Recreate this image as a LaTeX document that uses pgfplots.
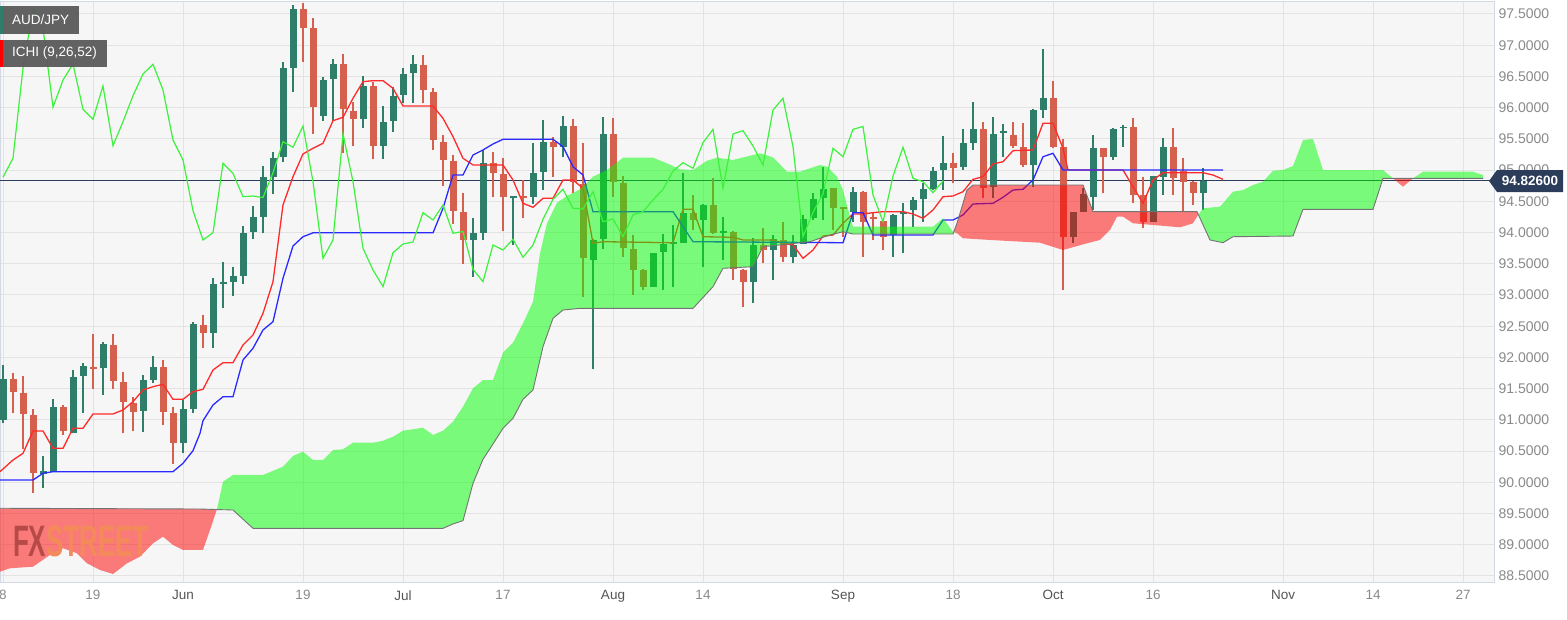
\documentclass[border=0pt]{standalone}
\usepackage{pgfplots}
\pgfplotsset{compat=1.18}
\usepackage{fontspec}
\setmainfont{Liberation Sans}
\definecolor{cgreen}{HTML}{2F7E6A}
\definecolor{cred}{HTML}{D6604E}
\definecolor{tenkan}{HTML}{FF2A2A}
\definecolor{kijun}{HTML}{2A2AFF}
\definecolor{chikou}{HTML}{3DF23D}
\definecolor{cloudG}{HTML}{00FF00}
\definecolor{cloudR}{HTML}{FF0000}
\definecolor{bgc}{HTML}{F6F6F6}
\definecolor{gridc}{HTML}{E3E3E3}
\definecolor{navy}{HTML}{2B3D5B}
\definecolor{framec}{HTML}{D3D9E4}
\definecolor{lbl}{HTML}{8A8A8A}
\definecolor{lbldark}{HTML}{555555}
\definecolor{boxg}{HTML}{5B5B5B}
\definecolor{fxc}{HTML}{B54A46}
\definecolor{streetc}{HTML}{F48A5A}

\begin{document}
\begin{tikzpicture}
\useasboundingbox[fill=white] (0,0) rectangle (1567pt,-619pt);
\begin{axis}[
  at={(0pt,-1pt)}, anchor=north west,
  scale only axis, width=1494pt, height=581pt,
  xmin=0, xmax=1494, ymin=88.403, ymax=97.708,
  clip=false,
  unbounded coords=jump,
  axis background/.style={fill=bgc},
  axis line style={draw=framec, line width=1pt},
  grid=major, major grid style={draw=gridc, line width=1pt},
  major tick length=0pt,
  ytick={88.5,89,89.5,90,90.5,91,91.5,92,92.5,93,93.5,94,94.5,95,95.5,96,96.5,97,97.5},
  yticklabels={88.5000,89.0000,89.5000,90.0000,90.5000,91.0000,91.5000,92.0000,92.5000,93.0000,93.5000,94.0000,94.5000,95.0000,95.5000,96.0000,96.5000,97.0000,97.5000},
  yticklabel pos=right,
  yticklabel style={font=\fontsize{14}{16}\selectfont, text=lbl, xshift=1pt},
  xtick={3,93,183,303,403,503,613,703,843,953,1053,1153,1283,1373,1463},
  xticklabels={8,19,\textcolor{lbldark}{Jun},19,\textcolor{lbldark}{Jul},17,\textcolor{lbldark}{Aug},14,\textcolor{lbldark}{Sep},18,\textcolor{lbldark}{Oct},16,\textcolor{lbldark}{Nov},14,27},
  xticklabel style={font=\fontsize{13.5}{16}\selectfont, text=lbl, yshift=-5pt},
]
% current price line
\addplot[navy, line width=1pt, forget plot] coordinates {(0,94.826) (1494,94.826)};

% green wicks (low, high)
\addplot[cgreen, line width=1.2pt, forget plot] coordinates {
(3,90.945) (3,91.878) (3,nan)
(43,89.904) (43,90.421) (43,nan)
(53,90.160) (53,91.329) (53,nan)
(73,90.785) (73,91.798) (73,nan)
(83,91.105) (83,91.915) (83,nan)
(103,91.398) (103,92.252) (103,nan)
(143,90.801) (143,91.718) (143,nan)
(153,91.586) (153,92.023) (153,nan)
(183,90.474) (183,91.318) (183,nan)
(193,91.105) (193,92.572) (193,nan)
(213,92.146) (213,93.267) (213,nan)
(223,92.787) (223,93.523) (223,nan)
(233,92.988) (233,93.453) (233,nan)
(243,93.176) (243,94.105) (243,nan)
(253,93.892) (253,94.425) (253,nan)
(263,93.988) (263,95.066) (263,nan)
(273,94.612) (273,95.295) (273,nan)
(283,95.125) (283,96.736) (283,nan)
(293,96.255) (293,97.644) (293,nan)
(323,95.791) (323,96.486) (323,nan)
(333,95.791) (333,96.774) (333,nan)
(363,95.669) (363,96.507) (363,nan)
(383,95.178) (383,96.026) (383,nan)
(393,95.615) (393,96.326) (393,nan)
(403,96.070) (403,96.630) (403,nan)
(413,96.070) (413,96.843) (413,nan)
(473,93.293) (473,94.228) (473,nan)
(483,93.881) (483,95.322) (483,nan)
(513,93.800) (513,94.585) (513,nan)
(533,94.457) (533,95.439) (533,nan)
(543,94.681) (543,95.802) (543,nan)
(563,95.205) (563,95.866) (563,nan)
(593,91.810) (593,93.890) (593,nan)
(603,93.731) (603,95.845) (603,nan)
(653,93.120) (653,93.680) (653,nan)
(663,93.080) (663,93.977) (663,nan)
(673,93.133) (673,94.121) (673,nan)
(683,93.830) (683,94.949) (683,nan)
(703,93.453) (703,94.450) (703,nan)
(723,93.560) (723,94.254) (723,nan)
(753,92.867) (753,93.908) (753,nan)
(773,93.240) (773,93.960) (773,nan)
(793,93.507) (793,93.960) (793,nan)
(803,93.810) (803,94.281) (803,nan)
(813,94.201) (813,94.628) (813,nan)
(823,94.201) (823,95.045) (823,nan)
(853,94.173) (853,94.724) (853,nan)
(893,93.613) (893,94.290) (893,nan)
(903,93.667) (903,94.468) (903,nan)
(913,94.093) (913,94.574) (913,nan)
(923,94.173) (923,94.788) (923,nan)
(933,94.681) (933,95.054) (933,nan)
(943,94.681) (943,95.546) (943,nan)
(963,95.001) (963,95.653) (963,nan)
(973,95.322) (973,96.095) (973,nan)
(993,94.548) (993,95.845) (993,nan)
(1003,95.214) (1003,95.738) (1003,nan)
(1033,94.734) (1033,95.974) (1033,nan)
(1043,95.829) (1043,96.934) (1043,nan)
(1073,93.828) (1073,94.330) (1073,nan)
(1083,94.330) (1083,94.708) (1083,nan)
(1093,94.361) (1093,95.562) (1093,nan)
(1113,95.162) (1113,95.669) (1113,nan)
(1123,95.375) (1123,95.722) (1123,nan)
(1153,94.170) (1153,94.910) (1153,nan)
(1163,94.601) (1163,95.509) (1163,nan)
(1203,94.361) (1203,95.029)};

% red wicks (low, high)
\addplot[cred, line width=1.2pt, forget plot] coordinates {
(13,91.115) (13,91.755) (13,nan)
(23,90.529) (23,91.707) (23,nan)
(33,89.833) (33,91.169) (33,nan)
(63,90.758) (63,91.238) (63,nan)
(93,91.494) (93,92.370) (93,nan)
(113,91.489) (113,92.370) (113,nan)
(123,90.785) (123,91.771) (123,nan)
(133,90.822) (133,91.371) (133,nan)
(163,90.918) (163,91.959) (163,nan)
(173,90.293) (173,91.201) (173,nan)
(203,92.146) (203,92.679) (203,nan)
(303,96.736) (303,97.681) (303,nan)
(313,95.578) (313,97.431) (313,nan)
(343,95.279) (343,96.859) (343,nan)
(353,95.391) (353,96.095) (353,nan)
(373,95.178) (373,96.416) (373,nan)
(423,96.070) (423,96.843) (423,nan)
(433,95.322) (433,96.320) (433,nan)
(443,94.750) (443,95.562) (443,nan)
(453,94.137) (453,95.242) (453,nan)
(463,93.496) (463,94.628) (463,nan)
(493,94.564) (493,95.295) (493,nan)
(503,94.029) (503,95.189) (503,nan)
(523,94.228) (523,94.841) (523,nan)
(553,94.894) (553,95.535) (553,nan)
(573,94.628) (573,95.813) (573,nan)
(583,92.972) (583,95.439) (583,nan)
(613,94.574) (613,95.834) (613,nan)
(623,93.613) (623,94.905) (623,nan)
(633,92.999) (633,93.960) (633,nan)
(643,93.080) (643,93.410) (643,nan)
(693,94.041) (693,94.601) (693,nan)
(713,93.980) (713,94.868) (713,nan)
(733,93.240) (733,94.020) (733,nan)
(743,92.812) (743,93.410) (743,nan)
(763,93.507) (763,94.068) (763,nan)
(783,93.533) (783,94.173) (783,nan)
(833,94.041) (833,94.720) (833,nan)
(843,93.933) (843,94.414) (843,nan)
(863,93.613) (863,94.660) (863,nan)
(873,93.881) (873,94.308) (873,nan)
(883,93.720) (883,94.190) (883,nan)
(953,94.788) (953,95.269) (953,nan)
(983,94.548) (983,95.775) (983,nan)
(1013,95.349) (1013,95.775) (1013,nan)
(1023,95.054) (1023,95.759) (1023,nan)
(1053,95.349) (1053,96.432) (1053,nan)
(1063,93.080) (1063,95.493) (1063,nan)
(1103,94.628) (1103,95.355) (1103,nan)
(1133,94.468) (1133,95.829) (1133,nan)
(1143,94.068) (1143,94.894) (1143,nan)
(1173,94.601) (1173,95.669) (1173,nan)
(1183,94.334) (1183,95.189) (1183,nan)
(1193,94.441) (1193,94.820)};

% green bodies (open, close)
\addplot[cgreen, line width=7pt, forget plot] coordinates {
(3,90.998) (3,91.650) (3,nan)
(43,90.133) (43,90.181) (43,nan)
(53,90.170) (53,91.211) (53,nan)
(73,90.794) (73,91.691) (73,nan)
(83,91.707) (83,91.867) (83,nan)
(103,91.826) (103,92.215) (103,nan)
(143,91.142) (143,91.638) (143,nan)
(153,91.638) (153,91.842) (153,nan)
(183,90.634) (183,91.169) (183,nan)
(193,91.169) (193,92.535) (193,nan)
(213,92.386) (213,93.171) (213,nan)
(223,93.171) (223,93.203) (223,nan)
(233,93.213) (233,93.304) (233,nan)
(243,93.304) (243,93.997) (243,nan)
(253,94.004) (253,94.254) (253,nan)
(263,94.254) (263,94.885) (263,nan)
(273,94.894) (273,95.189) (273,nan)
(283,95.205) (283,96.630) (283,nan)
(293,96.640) (293,97.575) (293,nan)
(323,95.866) (323,96.443) (323,nan)
(333,96.454) (333,96.699) (333,nan)
(363,95.813) (363,96.347) (363,nan)
(383,95.391) (383,95.775) (383,nan)
(393,95.791) (393,96.191) (393,nan)
(403,96.203) (403,96.539) (403,nan)
(413,96.550) (413,96.694) (413,nan)
(473,93.881) (473,93.997) (473,nan)
(483,93.997) (483,95.109) (483,nan)
(513,94.561) (513,94.585) (513,nan)
(533,94.574) (533,94.958) (533,nan)
(543,94.974) (543,95.455) (543,nan)
(563,95.365) (563,95.706) (563,nan)
(593,93.560) (593,93.881) (593,nan)
(603,93.892) (603,95.578) (603,nan)
(653,93.133) (653,93.677) (653,nan)
(663,93.693) (663,93.816) (663,nan)
(673,93.816) (673,93.848) (673,nan)
(683,93.837) (683,94.318) (683,nan)
(703,94.201) (703,94.441) (703,nan)
(723,93.988) (723,94.017) (723,nan)
(753,93.213) (753,93.800) (753,nan)
(773,93.720) (773,93.892) (773,nan)
(793,93.613) (793,93.800) (793,nan)
(803,93.816) (803,94.212) (803,nan)
(813,94.228) (813,94.532) (813,nan)
(823,94.548) (823,94.692) (823,nan)
(853,94.334) (853,94.654) (853,nan)
(893,93.960) (893,94.281) (893,nan)
(903,94.297) (903,94.334) (903,nan)
(913,94.361) (913,94.521) (913,nan)
(923,94.532) (923,94.692) (923,nan)
(933,94.692) (933,94.985) (933,nan)
(943,95.001) (943,95.118) (943,nan)
(963,95.045) (963,95.439) (963,nan)
(973,95.439) (973,95.653) (973,nan)
(993,94.734) (993,95.578) (993,nan)
(1003,95.589) (1003,95.631) (1003,nan)
(1033,95.082) (1033,95.962) (1033,nan)
(1043,95.962) (1043,96.150) (1043,nan)
(1073,93.933) (1073,94.324) (1073,nan)
(1083,94.334) (1083,94.617) (1083,nan)
(1093,94.564) (1093,95.349) (1093,nan)
(1113,95.214) (1113,95.653) (1113,nan)
(1123,95.674) (1123,95.698) (1123,nan)
(1153,94.173) (1153,94.905) (1153,nan)
(1163,94.894) (1163,95.365) (1163,nan)
(1203,94.638) (1203,94.826)};

% red bodies (open, close)
\addplot[cred, line width=7pt, forget plot] coordinates {
(13,91.650) (13,91.441) (13,nan)
(23,91.435) (23,91.089) (23,nan)
(33,91.078) (33,90.154) (33,nan)
(63,91.201) (63,90.822) (63,nan)
(93,91.839) (93,91.815) (93,nan)
(113,92.199) (113,91.622) (113,nan)
(123,91.606) (123,91.291) (123,nan)
(133,91.275) (133,91.131) (133,nan)
(163,91.842) (163,91.131) (163,nan)
(173,91.115) (173,90.634) (173,nan)
(203,92.519) (203,92.386) (203,nan)
(303,97.575) (303,97.271) (303,nan)
(313,97.271) (313,96.006) (313,nan)
(343,96.694) (343,95.974) (343,nan)
(353,95.951) (353,95.813) (353,nan)
(373,96.347) (373,95.391) (373,nan)
(423,96.683) (423,96.283) (423,nan)
(433,96.255) (433,95.482) (433,nan)
(443,95.455) (443,95.162) (443,nan)
(453,95.150) (453,94.350) (453,nan)
(463,94.334) (463,93.881) (463,nan)
(493,95.109) (493,94.949) (493,nan)
(503,94.937) (503,94.574) (503,nan)
(523,94.585) (523,94.561) (523,nan)
(553,95.455) (553,95.365) (553,nan)
(573,95.706) (573,94.814) (573,nan)
(583,94.777) (583,93.587) (583,nan)
(613,95.578) (613,94.814) (613,nan)
(623,94.798) (623,93.747) (623,nan)
(633,93.731) (633,93.400) (633,nan)
(643,93.400) (643,93.133) (643,nan)
(693,94.318) (693,94.201) (693,nan)
(713,94.441) (713,93.988) (713,nan)
(733,94.013) (733,93.411) (733,nan)
(743,93.400) (743,93.213) (743,nan)
(763,93.800) (763,93.720) (763,nan)
(783,93.881) (783,93.603) (783,nan)
(833,94.708) (833,94.388) (833,nan)
(843,94.401) (843,94.377) (843,nan)
(863,94.654) (863,94.173) (863,nan)
(873,94.241) (873,94.217) (873,nan)
(883,94.185) (883,93.933) (883,nan)
(953,95.118) (953,95.029) (953,nan)
(983,95.653) (983,94.708) (983,nan)
(1013,95.562) (1013,95.386) (1013,nan)
(1023,95.365) (1023,95.082) (1023,nan)
(1053,96.150) (1053,95.375) (1053,nan)
(1063,95.365) (1063,93.933) (1063,nan)
(1103,95.349) (1103,95.214) (1103,nan)
(1133,95.685) (1133,94.601) (1133,nan)
(1143,94.601) (1143,94.173) (1143,nan)
(1173,95.365) (1173,94.868) (1173,nan)
(1183,94.990) (1183,94.814) (1183,nan)
(1193,94.814) (1193,94.638)};

% Tenkan
\addplot[tenkan, line width=1.3pt, forget plot] coordinates {
(0,90.170) (13,90.357) (23,90.464) (33,90.822) (43,90.822) (53,90.544) (63,90.544)
(73,90.865) (83,90.865) (93,91.094) (113,91.094) (123,91.158) (133,91.291) (143,91.478)
(153,91.531) (163,91.569) (173,91.329) (183,91.329) (193,91.451) (203,91.489) (213,91.798)
(223,91.915) (233,91.915) (243,92.199) (253,92.359) (263,92.706) (273,93.213) (283,94.441)
(293,94.894) (303,95.258) (313,95.349) (323,95.429) (333,95.791) (343,95.845) (353,96.150)
(363,96.416) (373,96.432) (383,96.432) (393,96.310) (403,96.026) (433,96.026) (443,95.829)
(453,95.535) (463,95.189) (473,95.082) (503,95.082) (513,94.841) (523,94.468) (533,94.404)
(543,94.548) (553,94.548) (563,94.841) (573,94.841) (583,94.708) (593,93.827) (603,93.853)
(673,93.837) (683,94.372) (693,94.372) (703,93.933) (733,93.924) (743,93.881) (773,93.881)
(783,93.828) (793,93.800) (803,93.587) (813,93.720) (823,93.944) (833,93.960) (843,94.148)
(853,94.297) (863,94.297) (873,94.318) (883,94.334) (903,94.334) (913,94.297) (923,94.228)
(933,94.361) (943,94.574) (953,94.585) (963,94.654) (973,94.852) (983,94.894) (993,95.098)
(1003,95.134) (1013,95.311) (1033,95.322) (1043,95.749) (1053,95.749) (1063,95.349)
(1068,95.001) (1123,95.001) (1143,94.468) (1153,94.841) (1163,94.958) (1203,94.958)
(1213,94.921) (1223,94.852)};

% Kijun
\addplot[kijun, line width=1.3pt, forget plot] coordinates {
(0,90.037) (33,90.037) (43,90.144) (53,90.170) (173,90.170) (183,90.304) (193,90.506)
(200,90.785) (203,90.986) (213,91.238) (223,91.371) (233,91.371) (243,91.959) (253,92.146)
(263,92.439) (273,92.572) (283,93.267) (293,93.784) (303,93.933) (313,93.995) (433,93.995)
(443,94.388) (453,94.921) (463,94.921) (473,95.242) (483,95.322) (493,95.418) (503,95.493)
(553,95.493) (563,95.375) (573,95.054) (583,94.921) (593,94.334) (673,94.334) (693,93.853)
(843,93.837) (853,94.318) (863,94.318) (873,93.960) (933,93.960) (943,94.201) (953,94.201)
(963,94.281) (973,94.457) (993,94.468) (1003,94.564) (1013,94.681) (1023,94.692)
(1033,94.841) (1043,95.214) (1053,95.269) (1063,95.001) (1223,95.001)};

% cloud: red where Senkou B above Senkou A, green otherwise
\addplot[fill=cloudR, fill opacity=0.5, draw=none, forget plot] coordinates {
(0,88.568) (10,88.623) (33,88.648) (50,88.836) (63,88.943) (77,88.863) (87,88.703)
(100,88.595) (113,88.531) (127,88.703) (140,88.808) (153,89.023) (163,89.129) (173,88.996)
(183,88.916) (203,88.916) (210,89.236) (217,89.568) (200,89.572) (0,89.584)};
\addplot[fill=cloudG, fill opacity=0.5, draw=none, forget plot] coordinates {
(217,89.568) (223,90.010) (233,90.117) (263,90.117)
(283,90.250) (293,90.421) (303,90.490) (313,90.357) (323,90.357) (333,90.517) (343,90.528)
(353,90.634) (373,90.634) (383,90.666) (393,90.730) (403,90.826) (423,90.874) (433,90.758)
(443,90.826) (453,90.971) (463,91.211) (473,91.505) (483,91.638) (493,91.638) (503,92.075)
(513,92.236) (523,92.546) (533,92.892) (540,93.667) (547,94.148) (557,94.478) (567,94.585)
(580,94.692) (593,94.894) (607,95.001) (623,95.198) (653,95.198) (667,95.109) (680,95.013)
(693,95.001) (707,95.150) (717,95.198) (733,95.162) (760,95.269) (773,95.205) (787,94.974)
(800,94.974) (810,95.029) (820,95.082) (827,95.054) (837,94.894) (843,94.681) (850,94.254)
(853,94.093) (933,94.093) (943,94.228) (953,94.013) (953.7,94.008)
(953,93.977) (853,93.977) (843,94.013) (830,93.960) (820,93.908) (810,93.853) (763,93.773)
(753,93.453) (723,93.427) (713,93.133) (693,92.786) (580,92.786) (563,92.759) (553,92.626)
(543,92.172) (533,91.478) (523,91.329) (513,91.025) (503,90.865) (493,90.613) (483,90.368)
(473,89.984) (463,89.385) (453,89.332) (443,89.263) (253,89.263) (233,89.556)};
\addplot[fill=cloudR, fill opacity=0.5, draw=none, forget plot] coordinates {
(953.7,94.008) (957,93.988) (963,93.908) (990,93.881) (1040,93.837) (1063,93.720) (1087,93.828)
(1100,93.881) (1110,94.041) (1117,94.254) (1123,94.254) (1133,94.148) (1153,94.121)
(1180,94.084) (1193,94.148) (1197,94.254) (1198.4,94.285)
(1197,94.334) (1093,94.334) (1083,94.761) (973,94.761) (967,94.681) (957,94.148)};
\addplot[fill=cloudG, fill opacity=0.5, draw=none, forget plot] coordinates {
(1198.4,94.285) (1203,94.388) (1220,94.414) (1233,94.654) (1243,94.681) (1253,94.761)
(1263,94.814) (1273,94.990) (1283,95.001) (1293,95.065) (1303,95.482) (1313,95.498)
(1323,95.001) (1383,95.001) (1393,94.868)
(1383,94.868) (1373,94.372) (1303,94.372) (1293,93.944) (1233,93.933) (1223,93.837) (1210,93.881)};
\addplot[fill=cloudR, fill opacity=0.5, draw=none, forget plot] coordinates {
(1393,94.868) (1403,94.734) (1413,94.868)};
\addplot[fill=cloudG, fill opacity=0.5, draw=none, forget plot] coordinates {
(1413,94.868) (1423,94.974) (1473,94.974) (1483,94.921) (1483,94.868)};

% Senkou B line
\addplot[black!55, line width=0.9pt, forget plot] coordinates {
(0,89.584) (200,89.572) (233,89.556) (253,89.263) (443,89.263) (453,89.332) (463,89.385)
(473,89.984) (483,90.368) (493,90.613) (503,90.865) (513,91.025) (523,91.329) (533,91.478)
(543,92.172) (553,92.626) (563,92.759) (580,92.786) (693,92.786) (713,93.133) (723,93.427)
(753,93.453) (763,93.773) (810,93.853) (820,93.908) (830,93.960) (843,94.013) (853,93.977)
(953,93.977) (957,94.148) (967,94.681) (973,94.761) (1083,94.761) (1093,94.334)
(1197,94.334) (1210,93.881) (1223,93.837) (1233,93.933) (1293,93.944) (1303,94.372)
(1373,94.372) (1383,94.868) (1483,94.868)};

% Chikou
\addplot[chikou, line width=1.2pt, forget plot] coordinates {
(3,94.885) (13,95.189) (23,96.630) (33,97.575) (43,97.271) (53,96.006) (63,96.443)
(73,96.699) (83,95.974) (93,95.813) (103,96.347) (113,95.391) (123,95.775) (133,96.191)
(143,96.539) (153,96.694) (163,96.283) (173,95.482) (183,95.162) (193,94.350) (203,93.881)
(213,93.997) (223,95.109) (233,94.949) (243,94.574) (253,94.585) (263,94.561) (273,94.958)
(283,95.455) (293,95.365) (303,95.706) (313,94.814) (323,93.587) (333,93.881) (343,95.578)
(353,94.814) (363,93.747) (373,93.400) (383,93.133) (393,93.677) (403,93.816) (413,93.848)
(423,94.318) (433,94.201) (443,94.441) (453,93.988) (463,94.017) (473,93.411) (483,93.213)
(493,93.800) (503,93.720) (513,93.892) (523,93.603) (533,93.800) (543,94.212) (553,94.532)
(563,94.692) (573,94.388) (583,94.377) (593,94.654) (603,94.173) (613,94.217) (623,93.933)
(633,94.281) (643,94.334) (653,94.521) (663,94.692) (673,94.985) (683,95.118) (693,95.029)
(703,95.439) (713,95.653) (723,94.708) (733,95.578) (743,95.631) (753,95.386) (763,95.082)
(773,95.962) (783,96.150) (793,95.375) (803,93.933) (813,94.324) (823,94.617) (833,95.349)
(843,95.214) (853,95.653) (863,95.698) (873,94.601) (883,94.173) (893,94.905) (903,95.365)
(913,94.868) (923,94.814) (933,94.638) (943,94.826)};
\end{axis}

% watermark
\node[anchor=west, inner sep=0pt, xscale=0.59, font=\bfseries\fontsize{44}{44}\selectfont] at (13pt,-541pt) {\textcolor{fxc}{FX}\textcolor{streetc}{STREET}};

% legend boxes
\fill[boxg, opacity=0.95] (0pt,-6pt) rectangle (79pt,-34pt);
\fill[cgreen] (0pt,-6pt) rectangle (3pt,-34pt);
\node[anchor=west, inner sep=0pt, text=white, font=\fontsize{13.5}{15}\selectfont] at (12pt,-20pt) {AUD/JPY};
\fill[boxg, opacity=0.95] (0pt,-40pt) rectangle (107pt,-67pt);
\fill[red] (0pt,-40pt) rectangle (3pt,-67pt);
\node[anchor=west, inner sep=0pt, text=white, font=\fontsize{13.5}{15}\selectfont] at (12pt,-53.5pt) {ICHI (9,26,52)};

% price tag
\fill[navy] (1489pt,-181pt) -- (1497pt,-170pt) -- (1563pt,-170pt) -- (1563pt,-192pt) -- (1497pt,-192pt) -- cycle;
\node[inner sep=0pt, text=white, font=\bfseries\fontsize{13.5}{15}\selectfont] at (1530pt,-181pt) {94.82600};
\end{tikzpicture}
\end{document}
